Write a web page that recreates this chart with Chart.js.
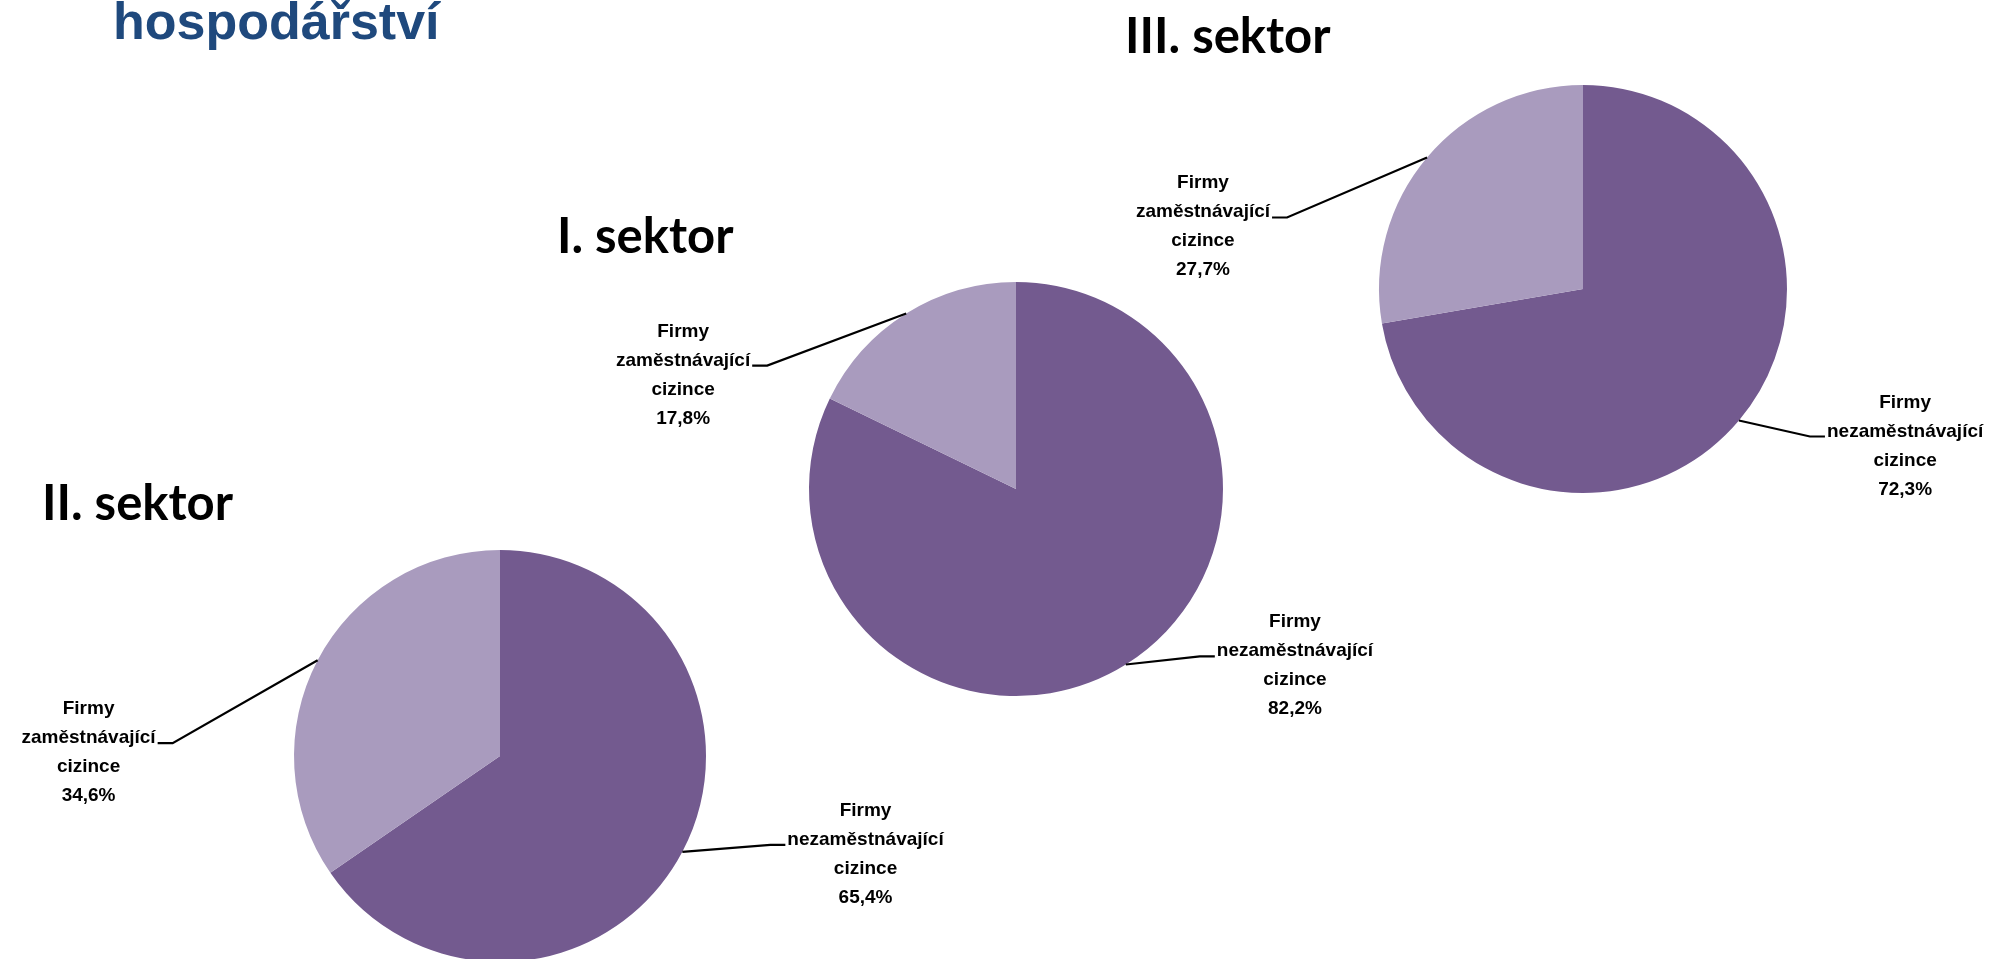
<!DOCTYPE html>
<html lang="cs">
<head>
<meta charset="utf-8">
<title>Firmy zaměstnávající cizince podle sektorů</title>
<script src="https://cdn.jsdelivr.net/npm/chart.js@4.4.1/dist/chart.umd.min.js"></script>
<style>
    html, body { margin: 0; padding: 0; background: #fff; overflow: hidden; width: 2002px; height: 959px; }
    #heading {
        position: absolute; left: 113px; top: -5px;
        font-family: "Liberation Sans", Arial, sans-serif; font-weight: bold;
        font-size: 52px; line-height: 1; color: #1F497D; white-space: nowrap;
    }
    .pie { position: absolute; left: 0; top: 0; }
</style>
</head>
<body>
<div id="heading">hospodářství</div>
<canvas id="pie3" class="pie" width="2002" height="1100"></canvas>
<canvas id="pie1" class="pie" width="2002" height="1100"></canvas>
<canvas id="pie2" class="pie" width="2002" height="1100"></canvas>
<script>
// Data
const sectors = ["III. sektor", "I. sektor", "II. sektor"];
const categories = ["Firmy nezaměstnávající cizince", "Firmy zaměstnávající cizince"];
const nonEmployingShare = [72.3, 82.2, 65.4];
const employingShare = [27.7, 17.8, 34.6];

const colors = ["#735A8F", "#A99BBE"];

// Layout of each pie on the page (center, radius, title, label leader offsets)
const layouts = [
    { canvas: "pie3", cx: 1583, cy: 289, r: 204, title: [1125, 53], offsets: [[71, 16], [-140, 60]] },
    { canvas: "pie1", cx: 1016, cy: 489, r: 207, title: [557, 253], offsets: [[74, -8], [-139, 52]] },
    { canvas: "pie2", cx: 500, cy: 756, r: 206, title: [42, 520], offsets: [[88, -7], [-145, 83]] }
];

// Draws the sector title and callout labels with leader lines
const calloutPlugin = {
    id: "callouts",
    afterDraw(chart, args, opts) {
        const ctx = chart.ctx;
        ctx.save();

        // sector title
        ctx.fillStyle = "#000";
        ctx.font = "bold 49px Lato, 'Liberation Sans', sans-serif";
        ctx.textBaseline = "alphabetic";
        ctx.textAlign = "left";
        ctx.fillText(opts.title, opts.titlePos[0], opts.titlePos[1]);

        const meta = chart.getDatasetMeta(0);
        const values = chart.data.datasets[0].data;
        ctx.font = "bold 19px 'Liberation Sans', Arial, sans-serif";

        meta.data.forEach((arc, i) => {
            const p = arc.getProps(["x", "y", "startAngle", "endAngle", "outerRadius"], true);
            const mid = (p.startAngle + p.endAngle) / 2;
            const ex = p.x + Math.cos(mid) * p.outerRadius;
            const ey = p.y + Math.sin(mid) * p.outerRadius;
            const off = opts.offsets[i];
            const bx = ex + off[0];
            const by = ey + off[1];
            const dir = off[0] < 0 ? -1 : 1;
            const tx = bx + dir * 15;

            ctx.strokeStyle = "#000";
            ctx.lineWidth = 2.2;
            ctx.beginPath();
            ctx.moveTo(ex, ey);
            ctx.lineTo(bx, by);
            ctx.lineTo(tx, by);
            ctx.stroke();

            const words = chart.data.labels[i].split(" ");
            const lines = [words[0], words[1], words[2], values[i].toFixed(1).replace(".", ",") + "%"];
            const w2 = ctx.measureText(lines[1]).width;
            const centerX = tx + dir * (w2 / 2 + 2);
            ctx.fillStyle = "#000";
            ctx.textAlign = "center";
            lines.forEach((line, k) => {
                ctx.fillText(line, centerX, by + (k - 1) * 29);
            });
        });
        ctx.restore();
    }
};

document.addEventListener("DOMContentLoaded", () => {
    layouts.forEach((lay, idx) => {
        const canvas = document.getElementById(lay.canvas);
        const W = canvas.width, H = canvas.height;
        new Chart(canvas.getContext("2d"), {
            type: "pie",
            data: {
                labels: categories,
                datasets: [{
                    data: [nonEmployingShare[idx], employingShare[idx]],
                    backgroundColor: colors,
                    borderWidth: 0,
                    hoverOffset: 0,
                    offset: 0
                }]
            },
            options: {
                responsive: false,
                devicePixelRatio: 1,
                animation: false,
                events: [],
                layout: {
                    padding: {
                        left: lay.cx - lay.r,
                        right: W - lay.cx - lay.r,
                        top: lay.cy - lay.r,
                        bottom: H - lay.cy - lay.r
                    }
                },
                plugins: {
                    legend: { display: false },
                    tooltip: { enabled: false },
                    callouts: { title: sectors[idx], titlePos: lay.title, offsets: lay.offsets }
                }
            },
            plugins: [calloutPlugin]
        });
    });
});
</script>
</body>
</html>
